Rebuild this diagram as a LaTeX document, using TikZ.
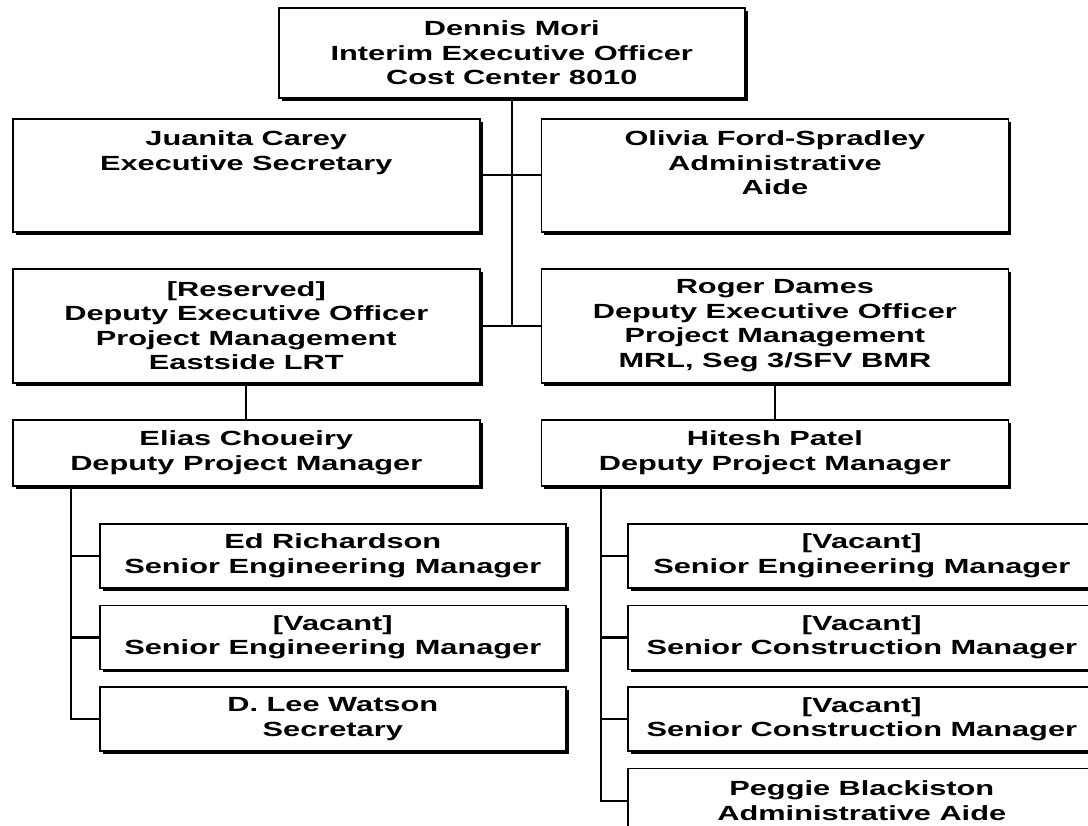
\documentclass[tikz,border=0pt]{standalone}
\usepackage{fontspec}
\setmainfont{Liberation Sans}[FakeStretch=1.5]
\usetikzlibrary{positioning,calc,shadows}

\tikzset{
  post/.style={draw, line width=1.6pt, fill=white, inner sep=0pt, align=center,
    anchor=north west, font=\bfseries\fontsize{20.5}{24.5}\selectfont,
    drop shadow={shadow xshift=3pt, shadow yshift=-3pt, fill=black, opacity=1}},
  wide/.style={post, minimum width=467pt},
  sub/.style={post, minimum width=466pt, minimum height=64pt},
  link/.style={line width=2.2pt}
}

\begin{document}
\begin{tikzpicture}[x=1pt, y=-1pt]
  \useasboundingbox (0,0) rectangle (1088,826);
  \clip (0,0) rectangle (1088,826);

  \node[post, minimum width=466pt, minimum height=90pt] (eo) at (278,7)
    {Dennis Mori\\Interim Executive Officer\\Cost Center 8010};

  \node[wide, minimum height=113pt] (s1) at (12,118)
    {Juanita Carey\\Executive Secretary\\~\\~};
  \node[wide, minimum height=113pt, right=60pt of s1] (s2)
    {Olivia Ford-Spradley\\Administrative\\Aide\\~};

  \node[wide, minimum height=114pt] (d1) at (12,268)
    {[Reserved]\\Deputy Executive Officer\\Project Management\\Eastside LRT};
  \node[wide, minimum height=114pt, right=60pt of d1] (d2)
    {Roger Dames\\Deputy Executive Officer\\Project Management\\MRL, Seg 3/SFV BMR};

  \node[wide, minimum height=66pt] (p1) at (12,419)
    {Elias Choueiry\\Deputy Project Manager};
  \node[wide, minimum height=66pt, right=60pt of p1] (p2)
    {Hitesh Patel\\Deputy Project Manager};

  \node[sub] (l1) at (99,523) {Ed Richardson\\Senior Engineering Manager};
  \node[sub, below=16pt of l1] (l2) {[Vacant]\\Senior Engineering Manager};
  \node[sub, below=16pt of l2] (l3) {D. Lee Watson\\Secretary};

  \node[sub, minimum width=468pt] (r1) at (627,523) {[Vacant]\\Senior Engineering Manager};
  \node[sub, minimum width=468pt, below=16pt of r1] (r2) {[Vacant]\\Senior Construction Manager};
  \node[sub, minimum width=468pt, below=16pt of r2] (r3) {[Vacant]\\Senior Construction Manager};
  \node[sub, minimum width=468pt, below=16pt of r3] (r4) {Peggie Blackiston\\Administrative Aide};

  \coordinate (lt) at ($(p1.south west)+(59,0)$);
  \coordinate (rt) at ($(p2.south west)+(60,0)$);

  \draw[link] (eo.south) -- (eo.south |- d1.east);
  \draw[link] (s1.east) -- (s2.west);
  \draw[link] (d1.east) -- (d2.west);
  \draw[link] (d1.south) -- (p1.north);
  \draw[link] (d2.south) -- (p2.north);
  \draw[link] (lt) |- (l1.west) (lt) |- (l2.west) (lt) |- (l3.west);
  \draw[link] (rt) |- (r1.west) (rt) |- (r2.west) (rt) |- (r3.west) (rt) |- (r4.west);
\end{tikzpicture}
\end{document}
